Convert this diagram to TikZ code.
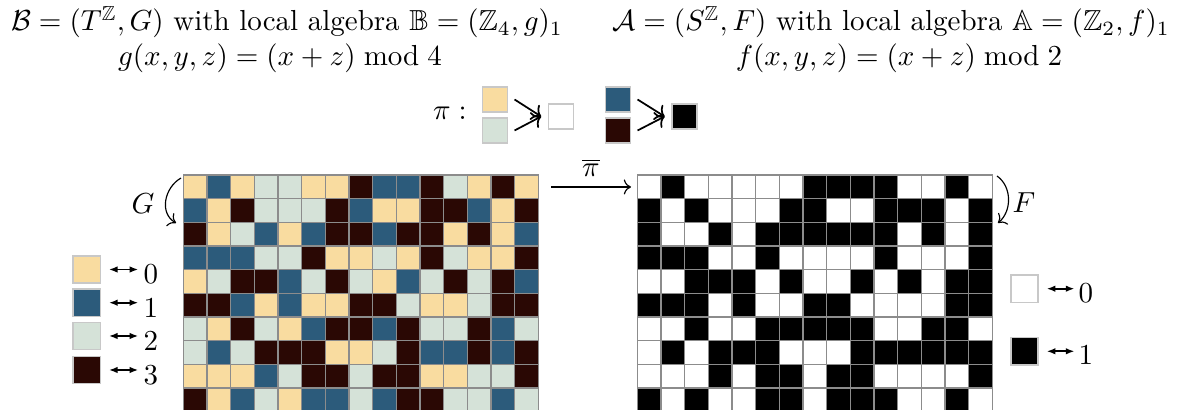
\documentclass[tikz,border=0pt]{standalone}
\usepackage{amsmath,amssymb}
\usepackage{tikz}
\usetikzlibrary{arrows.meta,calc}
\definecolor{c0}{HTML}{F9DCA0}
\definecolor{c1}{HTML}{2C5B7B}
\definecolor{c2}{HTML}{D5E2D8}
\definecolor{c3}{HTML}{2A0804}
\definecolor{w0}{HTML}{FFFFFF}
\definecolor{w1}{HTML}{000000}
\definecolor{cG}{HTML}{8C8C8C}
\definecolor{cE}{HTML}{C8C8C8}
\tikzset{
  cell/.style={draw=cG,line width=0.4pt},
  swatch/.style={draw=cE,line width=0.5pt,minimum size=9.4pt,inner sep=0pt},
  pswatch/.style={swatch,minimum size=8.6pt},
  digit/.style={inner sep=0pt,anchor=base west},
  legarrow/.style={{Latex[length=3pt]}-{Latex[length=3pt]},semithick},
  piarrow/.style={->,semithick},
  maparrow/.style={->},
  looparrow/.style={->},
}

\begin{document}
\begin{tikzpicture}[x=0.345pt,y=0.345pt]
  \useasboundingbox (0,0) rectangle (1184,-410);
  % titles
  \node[anchor=base] (tB) at (287,-31) {$\mathcal{B}=(T^{\mathbb{Z}},G)$ with local algebra $\mathbb{B}=(\mathbb{Z}_4,g)_1$};
  \node[anchor=base] (gB) at (280,-66) {$g(x,y,z)=(x+z)\bmod 4$};
  \node[anchor=base] (tA) at (891,-31) {$\mathcal{A}=(S^{\mathbb{Z}},F)$ with local algebra $\mathbb{A}=(\mathbb{Z}_2,f)_1$};
  \node[anchor=base] (fA) at (899,-66) {$f(x,y,z)=(x+z)\bmod 2$};

  % the projection pi
  \node[anchor=east] (pi) at (477,-113) {$\pi:$};
  \node[pswatch,fill=c0] (p0) at (495,-99.5) {};
  \node[pswatch,fill=c2] (p2) at (495,-130.5) {};
  \node[pswatch,fill=w0] (pw) at (561,-116.5) {};
  \node[pswatch,fill=c1] (p1) at (618,-99.5) {};
  \node[pswatch,fill=c3] (p3) at (618,-130.5) {};
  \node[pswatch,fill=w1] (pb) at (684.5,-116.5) {};
  \foreach \s/\t in {p0/pw,p2/pw,p1/pb,p3/pb}
    \draw[piarrow] ([xshift=2.2pt]\s.east) -- ([xshift=-2.3pt]\t.west);

  % configurations, right one is the image under pi
  \def\cs{23.67}
  \foreach \row [count=\i from 0] in {
      {0,1,0,2,2,0,0,3,1,1,3,2,0,3,0},
      {1,0,3,2,2,2,3,1,0,0,3,3,1,0,3},
      {3,0,2,1,0,1,3,3,1,3,3,0,3,0,1},
      {1,1,1,2,2,3,0,0,2,0,3,2,0,0,3},
      {0,2,3,3,1,2,3,2,0,1,2,3,2,3,1},
      {3,3,1,0,1,0,0,3,3,2,0,0,2,3,3},
      {2,0,3,2,0,1,3,3,1,3,2,2,3,1,2},
      {2,1,2,3,3,3,0,0,2,3,1,1,3,1,3},
      {0,0,0,1,2,3,3,2,3,3,0,0,2,2,3},
      {3,0,1,2,0,1,1,2,1,3,3,2,2,1,2}}{
    \foreach \v [count=\j from 0] in \row {
      \pgfmathtruncatemacro{\w}{mod(\v,2)}
      \filldraw[cell,fill=c\v] ({183.3+\j*\cs},{-175-\i*\cs}) rectangle ++(\cs,-\cs);
      \filldraw[cell,fill=w\w] ({637.3+\j*\cs},{-175-\i*\cs}) rectangle ++(\cs,-\cs);
    }
  }

  % induced map
  \coordinate (mA) at (551,-187);
  \coordinate (mB) at (631,-187);
  \draw[maparrow] (mA) -- node[above] (pibar) {$\overline{\pi}$} (mB);

  % global maps
  \coordinate (gs) at (181,-178);
  \coordinate (ge) at (176,-223);
  \draw[looparrow] (gs) to[out=210,in=150,looseness=1.1] (ge);
  \node (G) at (143,-204) {$G$};
  \coordinate (fs) at (997,-176);
  \coordinate (fe) at (998,-223);
  \draw[looparrow] (fs) to[out=-35,in=40,looseness=1] (fe);
  \node (F) at (1024,-203) {$F$};

  % legends
  \foreach \k/\y in {0/269.5,1/302.7,2/336,3/370}{
    \node[swatch,fill=c\k] (s\k) at (86.7,-\y) {};
    \node[digit] (n\k) at (143,-\y-14.5) {$\k$};
    \draw[legarrow] ([xshift=2.7pt]s\k.east) -- ([xshift=-1.6pt]s\k.east -| n\k.west);
  }
  \foreach \k/\y in {0/288.7,1/351.3}{
    \node[swatch,fill=w\k] (r\k) at (1024.5,-\y) {};
    \node[digit] (m\k) at (1078,-\y-13.5) {$\k$};
    \draw[legarrow] ([xshift=2.7pt]r\k.east) -- ([xshift=-1.2pt]r\k.east -| m\k.west);
  }
\end{tikzpicture}
\end{document}
